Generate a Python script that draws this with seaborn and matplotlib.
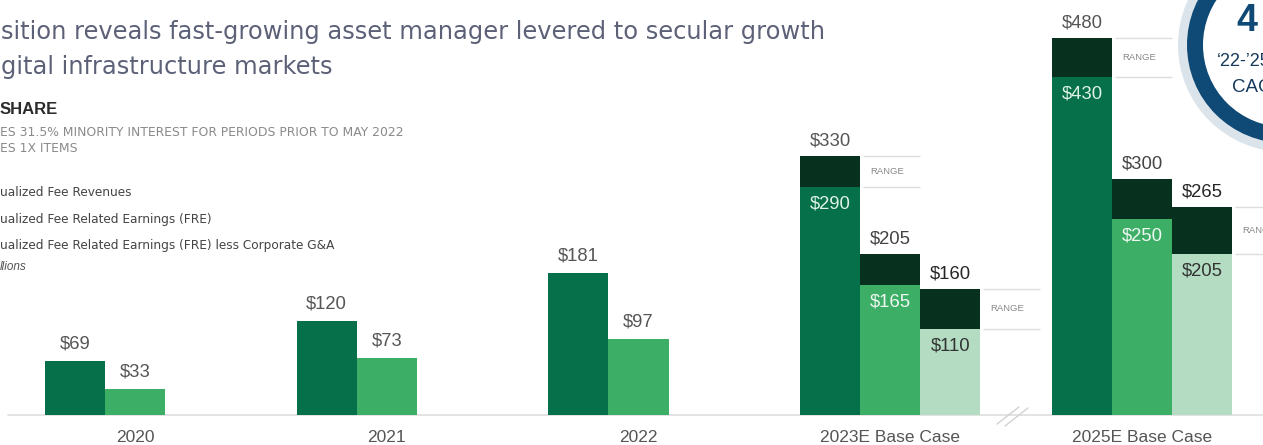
import matplotlib
matplotlib.use("Agg")
import matplotlib.pyplot as plt
from matplotlib.patches import Circle
import pandas as pd
import seaborn as sns

# ---- data ($ in millions) ----
categories = ["2020", "2021", "2022", "2023E Base Case", "2025E Base Case"]
series = [
    "Annualized Fee Revenues",
    "Annualized Fee Related Earnings (FRE)",
    "Annualized Fee Related Earnings (FRE) less Corporate G&A",
]
fee_revenues = [69, 120, 181, 290, 430]
fee_revenues_high = [None, None, None, 330, 480]
fre = [33, 73, 97, 165, 250]
fre_high = [None, None, None, 205, 300]
fre_less_ga = [None, None, None, 110, 205]
fre_less_ga_high = [None, None, None, 160, 265]

base_values = [fee_revenues, fre, fre_less_ga]
high_values = [fee_revenues_high, fre_high, fre_less_ga_high]


def long_table(columns):
    rows = []
    for s, vals in zip(series, columns):
        for c, v in zip(categories, vals):
            if v is not None:
                rows.append({"period": c, "series": s, "value": v})
    return pd.DataFrame(rows)


base_df = long_table(base_values)
high_df = long_table(high_values)

# ---- style ----
sns.set_theme(style="white")
plt.rcParams["font.family"] = ["Liberation Sans", "DejaVu Sans"]
wide_font = ["DejaVu Sans"]

bar_colors = ["#05704a", "#3dae66", "#b3dcc3"]
range_color = "#07301f"
label_grey = "#555555"

W, H = 1263, 445
baseline_px = 415          # pixel row of the zero line, from the top
px_per_unit = 0.786        # vertical pixels per $1M
slot_px = 251.75           # distance between period groups
first_slot_px = 135        # centre of the first period group
group_width = 0.715

fig = plt.figure(figsize=(W / 100, H / 100), dpi=100)
ax = fig.add_axes([0, (H - baseline_px) / H, 1, baseline_px / H])

# dark "range" layer first, base values on top of it
sns.barplot(data=high_df, x="period", y="value", hue="series",
            order=categories, hue_order=series,
            palette=[range_color] * 3, width=group_width, saturation=1,
            errorbar=None, linewidth=0, legend=False, ax=ax)
sns.barplot(data=base_df, x="period", y="value", hue="series",
            order=categories, hue_order=series,
            palette=bar_colors, width=group_width, saturation=1,
            errorbar=None, linewidth=0, legend=False, ax=ax)

ax.set_xlim(-first_slot_px / slot_px, (W - first_slot_px) / slot_px)
ax.set_ylim(0, baseline_px / px_per_unit)
ax.set_xlabel("")
ax.set_ylabel("")
ax.set_yticks([])
sns.despine(ax=ax, left=True, bottom=True)
ax.tick_params(axis="x", length=0, pad=11, labelsize=12.5, labelcolor=label_grey)
ax.axhline(0, xmin=8 / W, xmax=1, color="#dedede", lw=1.2, clip_on=False, zorder=0)

bar_w = group_width / len(series)
px = 1 / slot_px  # one pixel in x data units

top_colors = ["#555555", "#444444", "#262626"]
inside_colors = ["#dff2e6", "#eef8f1", "#333333"]
value_size = 13.3

for j in range(len(series)):
    for i, cat in enumerate(categories):
        x = i + bar_w * (j - 1)
        base = base_values[j][i]
        high = high_values[j][i]
        if base is None:
            continue
        if high is None:
            ax.annotate(f"${base}", (x, base), xytext=(0, 17),
                        textcoords="offset pixels", ha="center", va="center",
                        fontsize=value_size, color=label_grey)
            continue
        ax.annotate(f"${high}", (x, high), xytext=(0, 15),
                    textcoords="offset pixels", ha="center", va="center",
                    fontsize=value_size, color=top_colors[j])
        ax.annotate(f"${base}", (x, base), xytext=(0, -17),
                    textcoords="offset pixels", ha="center", va="center",
                    fontsize=value_size, color=inside_colors[j])
        if j != 1:
            right = x + bar_w / 2
            for yv in (base, high):
                ax.plot([right + 3 * px, right + 60 * px], [yv, yv],
                        color="#dcdcdc", lw=1, solid_capstyle="butt")
            ax.text(right + 10 * px, (base + high) / 2, "RANGE",
                    fontsize=6.8, color="#888888", ha="left", va="center",
                    clip_on=True)

# ---- overlay in pixel units for headings, notes and the CAGR badge ----
deco = fig.add_axes([0, 0, 1, 1], zorder=3)
deco.set_xlim(0, W)
deco.set_ylim(H, 0)
deco.axis("off")
deco.patch.set_alpha(0)

title_color = "#5c6178"
deco.text(1, 32, "sition reveals fast-growing asset manager levered to secular growth",
          fontsize=17.4, family=wide_font, color=title_color, ha="left", va="center")
deco.text(1, 67, "gital infrastructure markets",
          fontsize=17.4, family=wide_font, color=title_color, ha="left", va="center")

deco.text(0, 110, "SHARE", fontsize=12, fontweight="semibold", color="#2b2b2b",
          ha="left", va="center")
deco.text(0, 132, "ES 31.5% MINORITY INTEREST FOR PERIODS PRIOR TO MAY 2022",
          fontsize=8.9, family=wide_font, color="#8a8a8a", ha="left", va="center")
deco.text(0, 149, "ES 1X ITEMS", fontsize=8.9, family=wide_font, color="#8a8a8a",
          ha="left", va="center")

legend_lines = [
    "ualized Fee Revenues",
    "ualized Fee Related Earnings (FRE)",
    "ualized Fee Related Earnings (FRE) less Corporate G&A",
]
for yy, txt in zip([192, 219, 246], legend_lines):
    deco.text(0, yy, txt, fontsize=8.7, family=wide_font, color="#444444",
              ha="left", va="center")
deco.text(0, 267, "llions", fontsize=8.5, style="italic", color="#555555",
          ha="left", va="center")

# axis break marks between the estimate groups
for x0, y0, x1, y1 in [(997, 424, 1019, 407), (1005, 426, 1028, 408)]:
    deco.plot([x0, x1], [y0, y1], color="#d2d2d2", lw=1)

# CAGR badge
cx, cy = 1285, 45
deco.add_patch(Circle((cx, cy), 107, facecolor="#dbe4ea", edgecolor="none"))
deco.add_patch(Circle((cx, cy), 98, facecolor="#0f4a76", edgecolor="none"))
deco.add_patch(Circle((cx, cy), 82, facecolor="white", edgecolor="none"))
badge_text = "#163a5c"
deco.text(1236, 21, "4", fontsize=27, fontweight="bold", color="#0f4a76",
          ha="left", va="center", clip_on=True)
deco.text(1217, 62, "\u201822-\u201925", fontsize=13, color=badge_text,
          ha="left", va="center", clip_on=True)
deco.text(1232, 88, "CAGR", fontsize=13.5, color=badge_text,
          ha="left", va="center", clip_on=True)

fig.savefig("out.png", dpi=100)
